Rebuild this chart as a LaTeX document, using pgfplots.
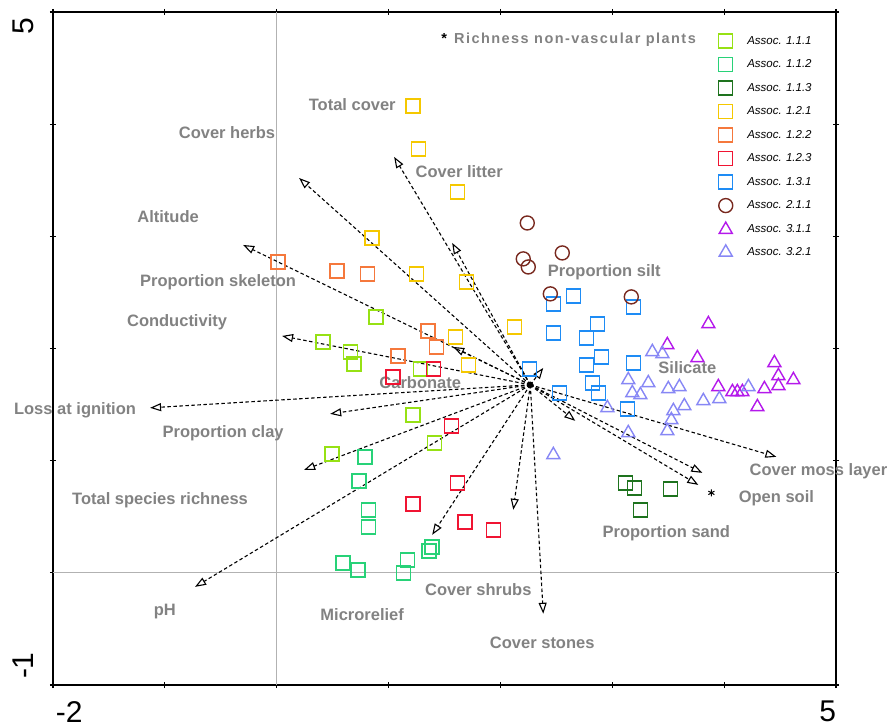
\documentclass[border=0pt]{standalone}
\usepackage{fontspec}
\setmainfont{Liberation Sans}
\usepackage{pgfplots}
\pgfplotsset{compat=1.18}
\usetikzlibrary{arrows.meta}

\definecolor{a111}{RGB}{150,225,20}
\definecolor{a112}{RGB}{40,210,120}
\definecolor{a113}{RGB}{30,115,30}
\definecolor{a121}{RGB}{245,200,0}
\definecolor{a122}{RGB}{245,120,60}
\definecolor{a123}{RGB}{240,20,50}
\definecolor{a131}{RGB}{30,140,245}
\definecolor{a211}{RGB}{120,40,30}
\definecolor{a311}{RGB}{180,25,235}
\definecolor{a321}{RGB}{135,135,245}
\definecolor{lbl}{RGB}{130,130,130}

\tikzset{lab/.style={text=lbl, font=\bfseries\fontsize{16.5}{18}\selectfont, inner sep=0pt}}

\begin{document}
\begin{tikzpicture}
\begin{axis}[
    scale only axis,
    width=783pt, height=673pt,
    xmin=-2, xmax=5, ymin=-1, ymax=5,
    clip=false,
    xtick={-2,...,5}, ytick={-1,...,5},
    xticklabels={\makebox[0pt][l]{\hspace{3pt}-2},,,,,,,\makebox[0pt][r]{5}},
    yticklabels={\makebox[0pt][l]{\hspace{6pt}-1},,,,,,\makebox[0pt][r]{5\hspace{6pt}}},
    tick label style={font=\fontsize{30}{32}\selectfont, inner sep=0pt},
    xticklabel style={anchor=north, yshift=-13pt},
    yticklabel style={xshift=-16pt, rotate=90, anchor=south},
    tick align=center, major tick length=6pt,
    tick style={black, line width=1.2pt},
    axis line style={line width=2pt},
    extra x ticks={0}, extra y ticks={0},
    extra x tick labels={}, extra y tick labels={},
    extra tick style={grid=major, major tick length=0pt,
        major grid style={draw=gray!60, line width=0.8pt}},
    legend cell align=left,
    legend style={draw=none, fill=none, at={(axis cs:3.95,4.805)},
        anchor=north west, inner sep=0pt, row sep=9.5pt, column sep=13.5pt,
        nodes={inner sep=1pt},
        font=\fontsize{11.5}{13}\selectfont\itshape},
    sq/.style={only marks, mark=square, mark size=7pt, color=#1,
        mark options={line width=1.4pt, solid, fill=none}},
    ci/.style={only marks, mark=o, mark size=7pt, color=#1,
        mark options={line width=1.4pt, solid, fill=none}},
    tr/.style={only marks, mark=triangle, mark size=7.5pt, color=#1,
        mark options={line width=1.4pt, solid, fill=none}},
    arr/.style={forget plot, black, line width=1.1pt, dash pattern=on 3.5pt off 2.5pt,
        -{Triangle[open,length=11pt,width=8pt,line width=1.1pt]}},
]
% Assoc. 1.1.1
\addplot[sq=a111] coordinates {
    (0.889,2.282) (0.415,2.059) (0.657,1.970) (0.692,1.863)
    (1.283,1.818) (1.220,1.408) (1.408,1.158) (0.496,1.060)
};
% Assoc. 1.1.2
\addplot[sq=a112] coordinates {
    (0.791,1.034) (0.737,0.820) (0.818,0.561) (0.818,0.410) (0.594,0.089)
    (0.728,0.027) (1.167,0.116) (1.131,0.000) (1.390,0.232) (1.363,0.196)
};
% Assoc. 1.1.3
\addplot[sq=a113] coordinates {
    (3.117,0.802) (3.197,0.757) (3.519,0.748) (3.251,0.561)
};
% Assoc. 1.2.1
\addplot[sq=a121] coordinates {
    (1.220,4.162) (1.265,3.779) (1.614,3.396) (0.853,2.986) (1.247,2.665)
    (1.694,2.593) (1.596,2.103) (2.124,2.192) (1.712,1.854)
};
% Assoc. 1.2.2
\addplot[sq=a122] coordinates {
    (0.013,2.772) (0.540,2.692) (0.809,2.665) (1.354,2.157) (1.426,2.014) (1.086,1.934)
};
% Assoc. 1.2.3
\addplot[sq=a123] coordinates {
    (1.041,1.747) (1.399,1.818) (1.560,1.310) (1.614,0.802)
    (1.220,0.615) (1.685,0.454) (1.936,0.383)
};
% Assoc. 1.3.1
\addplot[sq=a131] coordinates {
    (2.651,2.469) (2.473,2.397) (3.188,2.371) (2.473,2.139) (2.866,2.219)
    (2.768,2.094) (2.902,1.925) (2.768,1.854) (3.188,1.872) (2.258,1.818)
    (2.821,1.693) (2.875,1.604) (2.526,1.604) (3.134,1.462)
};
% Assoc. 2.1.1
\addplot[ci=a211] coordinates {
    (2.240,3.119) (2.553,2.852) (2.204,2.799) (2.249,2.727) (2.446,2.487) (3.170,2.460)
};
% Assoc. 3.1.1
\addplot[tr=a311] coordinates {
    (3.859,2.219) (3.492,2.032) (3.761,1.916) (4.449,1.872) (4.485,1.756)
    (4.619,1.720) (4.485,1.667) (4.360,1.640) (3.948,1.658) (4.074,1.613)
    (4.118,1.613) (4.163,1.613) (4.297,1.479)
};
% Assoc. 3.2.1
\addplot[tr=a321] coordinates {
    (3.358,1.970) (3.448,1.952) (3.143,1.720) (3.322,1.693) (3.501,1.640)
    (3.600,1.658) (3.179,1.604) (3.251,1.586) (3.814,1.533) (3.957,1.551)
    (4.217,1.658) (2.956,1.471) (3.546,1.444) (3.644,1.488) (3.528,1.363)
    (3.492,1.265) (3.143,1.248) (2.473,1.052)
};
\legend{Assoc. 1.1.1, Assoc. 1.1.2, Assoc. 1.1.3, Assoc. 1.2.1, Assoc. 1.2.2,
        Assoc. 1.2.3, Assoc. 1.3.1, Assoc. 2.1.1, Assoc. 3.1.1, Assoc. 3.2.1}

% environmental vectors
\addplot[arr] coordinates {(2.267,1.676) (0.200,3.520)};
\addplot[arr] coordinates {(2.267,1.676) (1.050,3.708)};
\addplot[arr] coordinates {(2.267,1.676) (1.569,2.941)};
\addplot[arr] coordinates {(2.267,1.676) (-0.300,2.923)};
\addplot[arr] coordinates {(2.267,1.676) (0.048,2.112)};
\addplot[arr] coordinates {(2.267,1.676) (-1.132,1.471)};
\addplot[arr] coordinates {(2.267,1.676) (0.478,1.417)};
\addplot[arr] coordinates {(2.267,1.676) (0.245,0.918)};
\addplot[arr] coordinates {(2.267,1.676) (-0.730,-0.125)};
\addplot[arr] coordinates {(2.267,1.676) (1.390,0.339)};
\addplot[arr] coordinates {(2.267,1.676) (2.115,0.562)};
\addplot[arr] coordinates {(2.267,1.676) (2.383,-0.365)};
\addplot[arr] coordinates {(2.267,1.676) (2.669,1.355)};
\addplot[arr] coordinates {(2.267,1.676) (4.467,1.034)};
\addplot[arr] coordinates {(2.267,1.676) (3.805,0.891)};
\addplot[arr] coordinates {(2.267,1.676) (3.769,0.784)};
\addplot[arr] coordinates {(2.267,1.676) (2.383,1.827)};
\addplot[arr] coordinates {(2.267,1.676) (1.578,2.014)};
\addplot[forget plot, only marks, mark=*, mark size=3pt, black] coordinates {(2.267,1.676)};
% richness non-vascular plants
\addplot[forget plot, only marks, mark=asterisk, mark size=3.5pt, black, line width=1pt]
    coordinates {(3.886,0.713)};

% labels
\node[lab] at (axis cs:0.675,4.171) {Total cover};
\node[lab] at (axis cs:-0.444,3.922) {Cover herbs};
\node[lab] at (axis cs:1.632,3.574) {Cover litter};
\node[lab] at (axis cs:-0.971,3.173) {Altitude};
\node[lab] at (axis cs:-0.524,2.593) {Proportion skeleton};
\node[lab] at (axis cs:-0.891,2.237) {Conductivity};
\node[lab] at (axis cs:-1.803,1.453) {Loss at ignition};
\node[lab] at (axis cs:-0.479,1.248) {Proportion clay};
\node[lab] at (axis cs:-1.043,0.650) {Total species richness};
\node[lab] at (axis cs:-1.000,-0.348) {pH};
\node[lab] at (axis cs:0.764,-0.375) {Microrelief};
\node[lab] at (axis cs:1.802,-0.152) {Cover shrubs};
\node[lab] at (axis cs:2.374,-0.624) {Cover stones};
\node[lab] at (axis cs:3.483,0.356) {Proportion sand};
\node[lab] at (axis cs:4.467,0.668) {Open soil};
\node[lab] at (axis cs:4.843,0.909) {Cover moss layer};
\node[lab] at (axis cs:3.671,1.827) {Silicate};
\node[lab] at (axis cs:1.283,1.693) {Carbonate};
\node[lab] at (axis cs:2.929,2.683) {Proportion silt};
\node[lab, font=\bfseries\fontsize{14.5}{16}\selectfont\addfontfeatures{LetterSpace=10}]
    at (axis cs:2.610,4.750) {\textcolor{black}{*}\hspace{7pt}Richness non-vascular plants};
\end{axis}
\path (current axis.south west) ++(-53pt,-42pt) rectangle ++(893pt,727pt);
\end{tikzpicture}
\end{document}
